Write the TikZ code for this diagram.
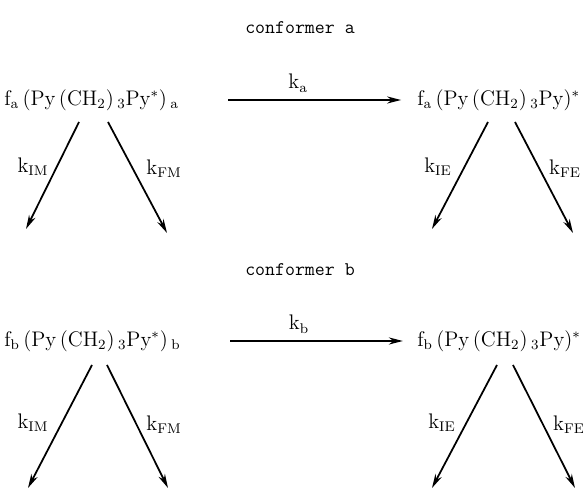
\documentclass[tikz,border=0pt]{standalone}
\usepackage{tikz}
\usetikzlibrary{positioning, arrows.meta}

\begin{document}
\begin{tikzpicture}[
    x=0.02cm, y=-0.02cm,
    species/.style={inner sep=0pt, font=\large, text height=9pt, text depth=3pt},
    conf/.style={font=\fontsize{11}{13}\selectfont\ttfamily, inner sep=0pt},
    rate/.style={font=\large, inner sep=0pt},
    arrow/.style={-{Stealth[length=8pt,width=4pt]}, line width=1pt},
  ]
  \useasboundingbox (0,0) rectangle (583,489);
  % conformer a
  \node[conf] (confa) at (300,28) {conformer a};
  \node[species, anchor=west] (fa) at (4,100)
    {f$_{\mathrm a}$\,(Py\,(CH$_2$)\,$_3$Py$^{*}$)\,$_{\mathrm a}$};
  \node[species, anchor=west] (fastar) at (417,100)
    {f$_{\mathrm a}$\,(Py\,(CH$_2$)\,$_3$Py)$^{*}$};
  \draw[arrow, shorten <=28pt, shorten >=9pt] (fa.east) -- (fastar.west)
    node[midway, above=4pt, rate] (ka) {k$_{\mathrm a}$};
  \coordinate (aim0) at (79,122);  \coordinate (aim1) at (26,229);
  \coordinate (afm0) at (108,122); \coordinate (afm1) at (167,233);
  \coordinate (aie0) at (488,122); \coordinate (aie1) at (432,229);
  \coordinate (afe0) at (515,122); \coordinate (afe1) at (573,233);
  \draw[arrow] (aim0) -- (aim1);
  \draw[arrow] (afm0) -- (afm1);
  \draw[arrow] (aie0) -- (aie1);
  \draw[arrow] (afe0) -- (afe1);
  \node[rate] (kima) at (33,167) {k$_{\mathrm{IM}}$};
  \node[rate] (kfma) at (164,169) {k$_{\mathrm{FM}}$};
  \node[rate] (kiea) at (438,167) {k$_{\mathrm{IE}}$};
  \node[rate] (kfea) at (565,169) {k$_{\mathrm{FE}}$};
  % conformer b
  \node[conf] (confb) at (300,270) {conformer b};
  \node[species, anchor=west] (fb) at (4,341)
    {f$_{\mathrm b}$\,(Py\,(CH$_2$)\,$_3$Py$^{*}$)\,$_{\mathrm b}$};
  \node[species, anchor=west] (fbstar) at (417,341)
    {f$_{\mathrm b}$\,(Py\,(CH$_2$)\,$_3$Py)$^{*}$};
  \draw[arrow, shorten <=28pt, shorten >=8pt] (fb.east) -- (fbstar.west)
    node[midway, above=4pt, rate] (kb) {k$_{\mathrm b}$};
  \coordinate (bim0) at (92,365);  \coordinate (bim1) at (28,488);
  \coordinate (bfm0) at (107,365); \coordinate (bfm1) at (168,488);
  \coordinate (bie0) at (497,365); \coordinate (bie1) at (432,488);
  \coordinate (bfe0) at (513,365); \coordinate (bfe1) at (575,488);
  \draw[arrow] (bim0) -- (bim1);
  \draw[arrow] (bfm0) -- (bfm1);
  \draw[arrow] (bie0) -- (bie1);
  \draw[arrow] (bfe0) -- (bfe1);
  \node[rate] (kimb) at (33,423) {k$_{\mathrm{IM}}$};
  \node[rate] (kfmb) at (164,425) {k$_{\mathrm{FM}}$};
  \node[rate] (kieb) at (442,423) {k$_{\mathrm{IE}}$};
  \node[rate] (kfeb) at (569,425) {k$_{\mathrm{FE}}$};
\end{tikzpicture}
\end{document}
